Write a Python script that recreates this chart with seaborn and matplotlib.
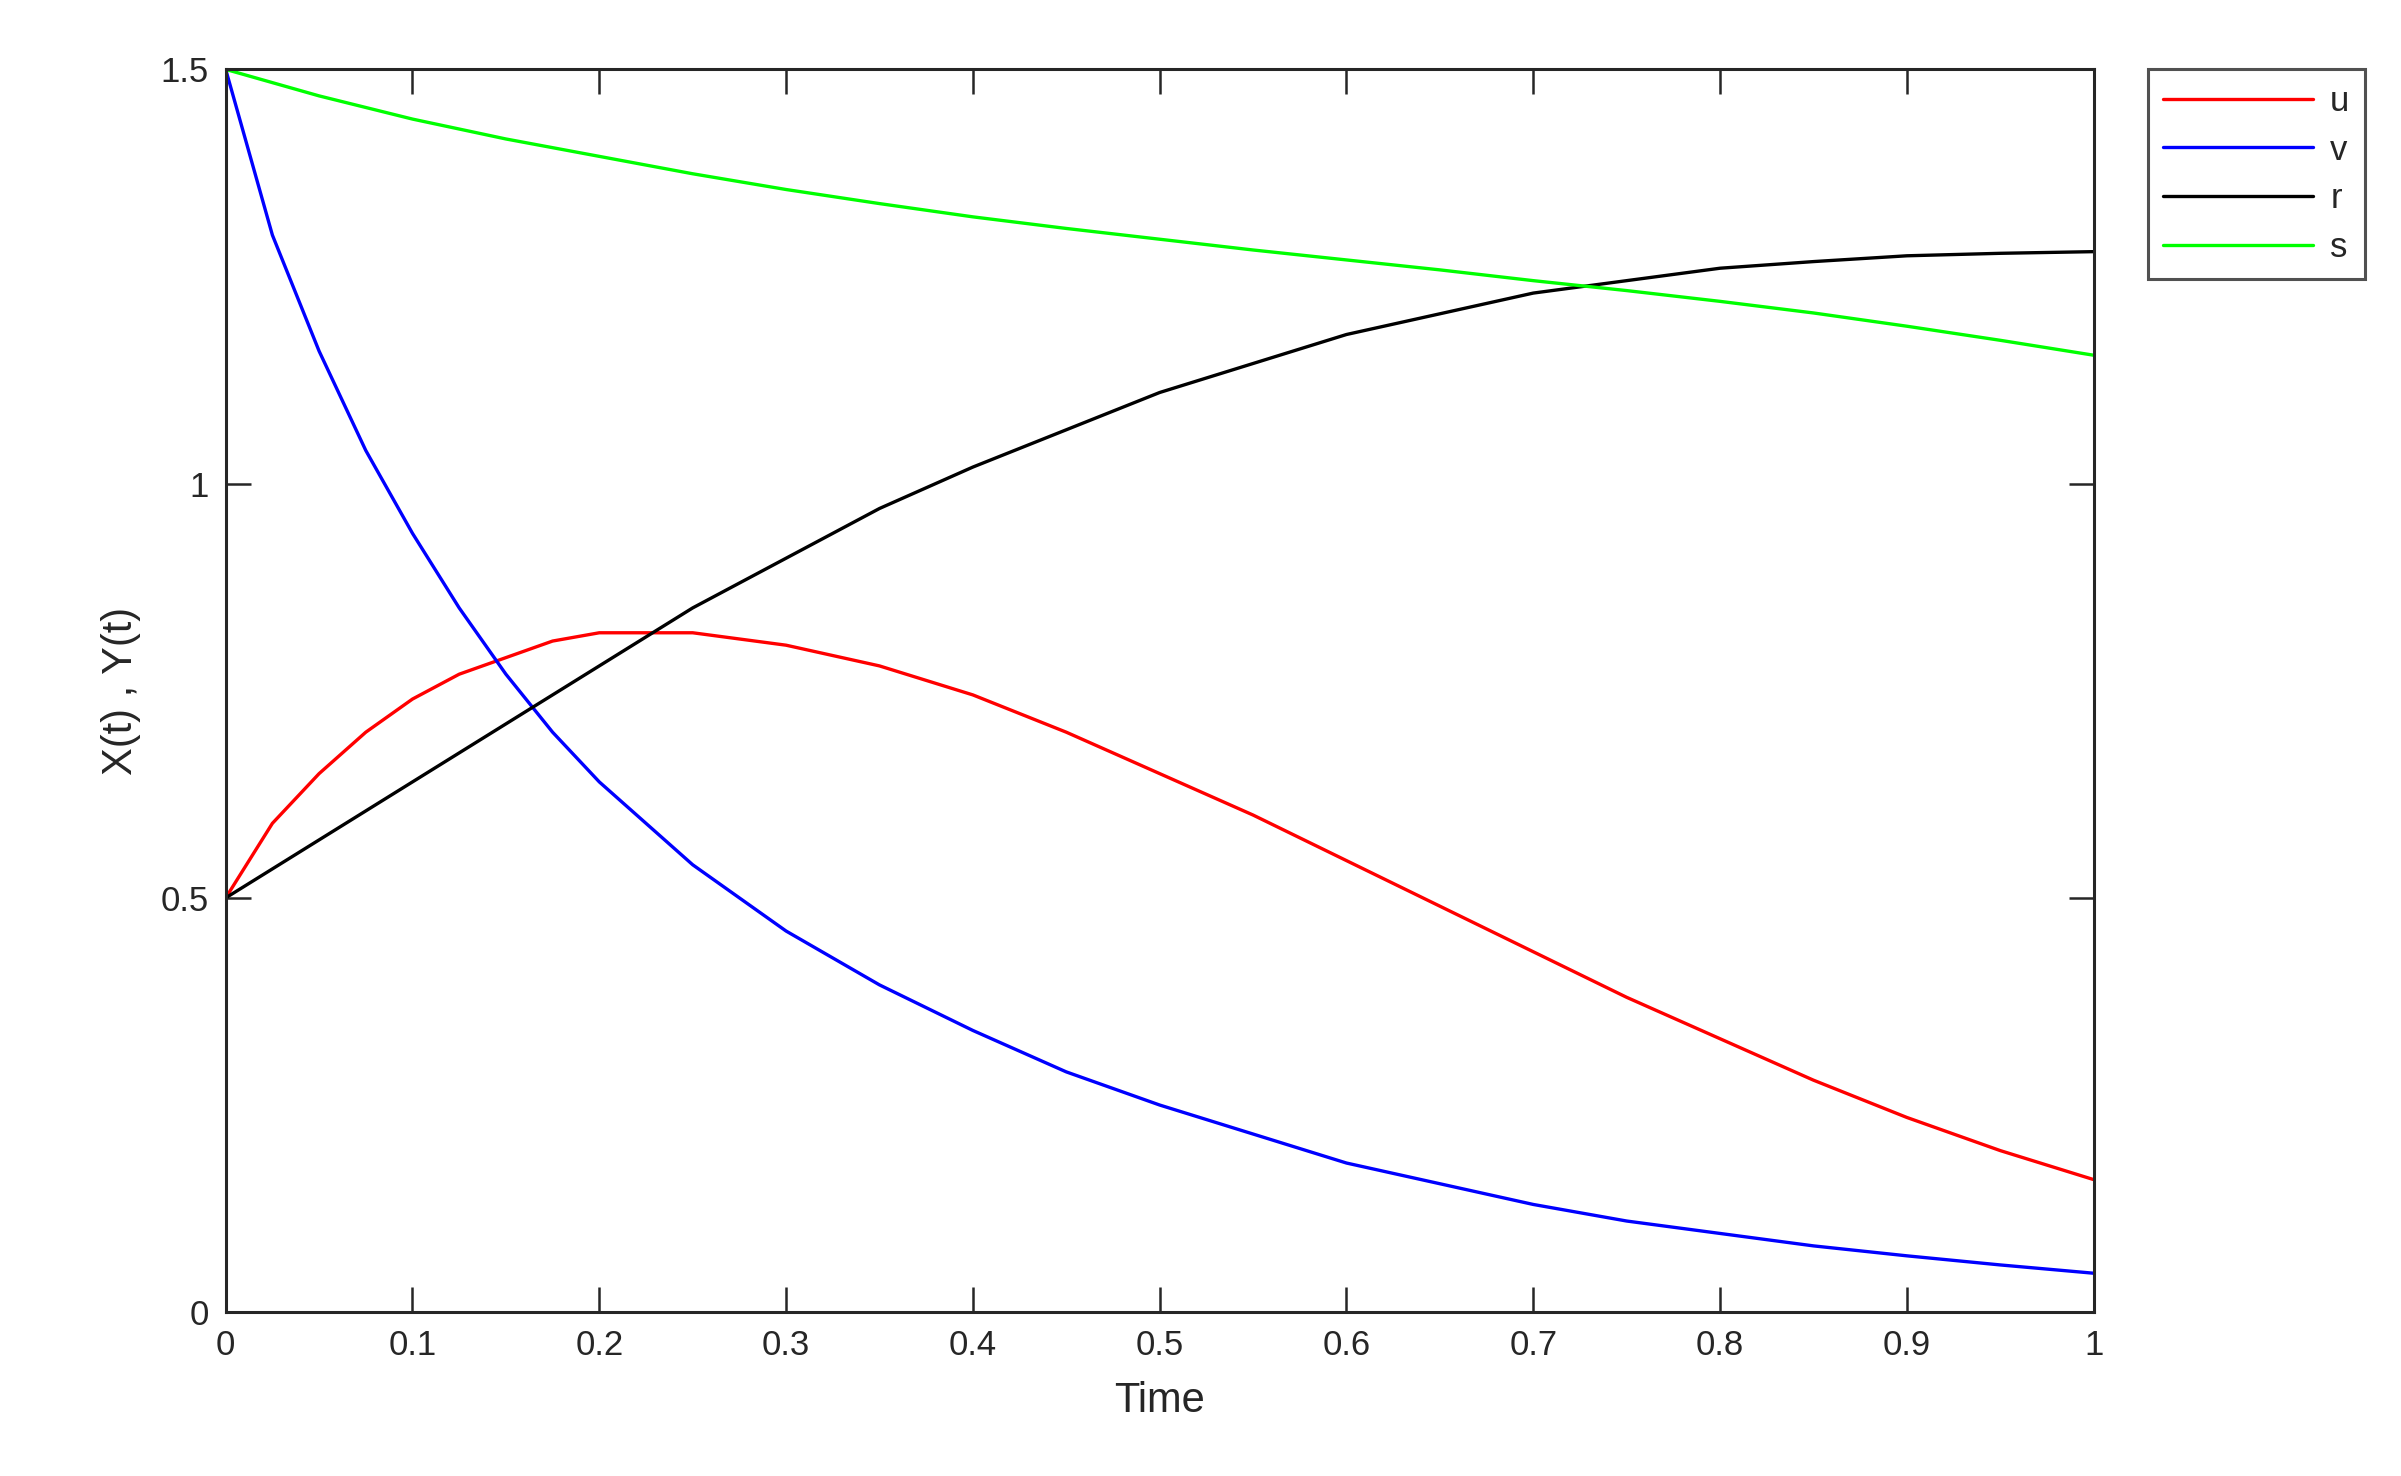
import matplotlib
matplotlib.use("Agg")
import matplotlib.pyplot as plt
import seaborn as sns
import pandas as pd

t_fine = [0, 0.025, 0.05, 0.075, 0.1, 0.125, 0.15, 0.175, 0.2, 0.25, 0.3, 0.35, 0.4, 0.45,
          0.5, 0.55, 0.6, 0.65, 0.7, 0.75, 0.8, 0.85, 0.9, 0.95, 1.0]
u = [0.5, 0.59, 0.65, 0.70, 0.74, 0.77, 0.79, 0.81, 0.82, 0.82, 0.805, 0.78, 0.745, 0.70,
     0.65, 0.60, 0.545, 0.49, 0.435, 0.38, 0.33, 0.28, 0.235, 0.195, 0.16]
v = [1.5, 1.30, 1.16, 1.04, 0.94, 0.85, 0.77, 0.70, 0.64, 0.54, 0.46, 0.395, 0.34, 0.29,
     0.25, 0.215, 0.18, 0.155, 0.13, 0.11, 0.095, 0.08, 0.068, 0.057, 0.047]
t_coarse = [0, 0.05, 0.1, 0.15, 0.2, 0.25, 0.3, 0.35, 0.4, 0.45, 0.5, 0.55, 0.6, 0.65,
            0.7, 0.75, 0.8, 0.85, 0.9, 0.95, 1.0]
r = [0.5, 0.57, 0.64, 0.71, 0.78, 0.85, 0.91, 0.97, 1.02, 1.065, 1.11, 1.145, 1.18, 1.205,
     1.23, 1.245, 1.26, 1.268, 1.275, 1.278, 1.28]
s = [1.5, 1.468, 1.44, 1.416, 1.395, 1.374, 1.355, 1.338, 1.322, 1.308, 1.295, 1.282, 1.27,
     1.258, 1.245, 1.233, 1.22, 1.206, 1.19, 1.173, 1.155]

sns.set_theme(style="white")
plt.rcParams['font.family'] = ['Liberation Sans', 'DejaVu Sans']

fig = plt.figure(figsize=(24.01, 14.76), dpi=100)
ax = fig.add_axes([0.094, 0.111, 0.778, 0.842])

series = [("u", t_fine, u, "#ff0000"), ("v", t_fine, v, "#0000ff"),
          ("r", t_coarse, r, "#000000"), ("s", t_coarse, s, "#00ff00")]
for name, t, y, c in series:
    sns.lineplot(x=t, y=y, ax=ax, color=c, linewidth=2.4, label=name)

ax.set_xlim(0, 1)
ax.set_ylim(0, 1.5)
ax.set_xticks([i / 10 for i in range(11)])
ax.set_xticklabels(["0"] + [f"{i/10:.1f}" for i in range(1, 10)] + ["1"])
ax.set_yticks([0, 0.5, 1, 1.5])
ax.set_yticklabels(["0", "0.5", "1", "1.5"])
ax.tick_params(direction="in", length=18, width=1.8, labelsize=25, top=True, right=True,
               bottom=True, left=True, colors="#262626", pad=12)
for sp in ax.spines.values():
    sp.set_color("#262626")
    sp.set_linewidth(2.2)
ax.set_xlabel("Time", fontsize=30, color="#262626", labelpad=14)
ax.set_ylabel("X(t) , Y(t)", fontsize=30, color="#262626", labelpad=14)

leg = ax.legend(loc="upper left", bbox_to_anchor=(1.029, 1.0), frameon=True, fancybox=False,
                fontsize=25, handlelength=4.3, borderpad=0.45,
                labelspacing=0.45, handletextpad=0.5, borderaxespad=0)
leg.get_frame().set_edgecolor("#262626")
leg.get_frame().set_linewidth(2.2)
for lh in leg.get_lines():
    lh.set_linewidth(2.4)

fig.savefig("out.png", dpi=100)
